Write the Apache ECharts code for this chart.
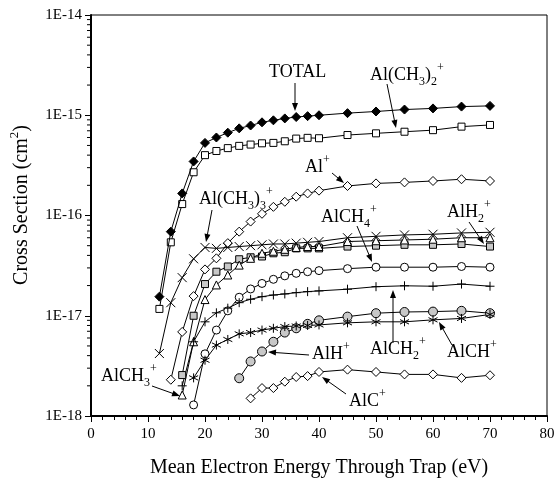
<!DOCTYPE html>
<html>
<head>
<meta charset="utf-8">
<script src="https://cdn.jsdelivr.net/npm/echarts@6/dist/echarts.min.js"></script>
<style>
  html, body { margin: 0; padding: 0; background: #fff; }
  #chart { width: 555px; height: 478px; }
</style>
</head>
<body>
<div id="chart"></div>
<script>
// electron energy (eV) at which each point was measured
var energy = [12, 14, 16, 18, 20, 22, 24, 26, 28, 30, 32, 34, 36, 38, 40, 45, 50, 55, 60, 65, 70];

// cross sections (cm^2), null where the ion was not measured
var total     = [1.55e-17, 6.9e-17, 1.66e-16, 3.46e-16, 5.3e-16, 6.0e-16, 6.7e-16, 7.4e-16, 7.9e-16, 8.5e-16, 8.9e-16, 9.3e-16, 9.6e-16, 9.8e-16, 1.0e-15, 1.05e-15, 1.09e-15, 1.14e-15, 1.17e-15, 1.22e-15, 1.24e-15];
var alMe2     = [1.17e-17, 5.4e-17, 1.3e-16, 2.7e-16, 4.0e-16, 4.4e-16, 4.7e-16, 4.95e-16, 5.1e-16, 5.25e-16, 5.3e-16, 5.5e-16, 5.85e-16, 5.95e-16, 5.9e-16, 6.35e-16, 6.6e-16, 6.85e-16, 7.1e-16, 7.7e-16, 8.0e-16];
var alPlus    = [null, 2.3e-18, 6.9e-18, 1.57e-17, 2.9e-17, 3.74e-17, 5.3e-17, 6.9e-17, 8.7e-17, 1.04e-16, 1.22e-16, 1.37e-16, 1.54e-16, 1.66e-16, 1.77e-16, 1.97e-16, 2.09e-16, 2.14e-16, 2.21e-16, 2.3e-16, 2.21e-16];
var alMe3     = [4.2e-18, 1.35e-17, 2.4e-17, 3.7e-17, 4.8e-17, 4.7e-17, 4.8e-17, 4.9e-17, 5.0e-17, 5.1e-17, 5.2e-17, 5.2e-17, 5.3e-17, 5.4e-17, 5.5e-17, 6.0e-17, 6.2e-17, 6.4e-17, 6.5e-17, 6.7e-17, 6.8e-17];
var alH2      = [null, null, 2.56e-18, 1.0e-17, 2.07e-17, 2.75e-17, 3.1e-17, 3.66e-17, 3.83e-17, 3.9e-17, 4.2e-17, 4.3e-17, 4.7e-17, 4.7e-17, 4.7e-17, 4.9e-17, 5.0e-17, 5.1e-17, 5.1e-17, 5.2e-17, 4.9e-17];
var alCH3     = [null, null, 1.62e-18, 5.5e-18, 1.45e-17, 2.03e-17, 2.55e-17, 3.2e-17, 3.74e-17, 4.2e-17, 4.4e-17, 4.6e-17, 4.8e-17, 4.9e-17, 4.9e-17, 5.5e-17, 5.6e-17, 5.7e-17, 5.8e-17, 6.0e-17, 6.0e-17];
var alCH4     = [null, null, null, 1.29e-18, 4.17e-18, 7.2e-18, 1.12e-17, 1.53e-17, 1.85e-17, 2.1e-17, 2.31e-17, 2.5e-17, 2.65e-17, 2.75e-17, 2.82e-17, 2.95e-17, 3.05e-17, 3.05e-17, 3.05e-17, 3.1e-17, 3.05e-17];
var alCH2     = [null, null, 2.0e-18, 5.5e-18, 8.7e-18, 1.07e-17, 1.19e-17, 1.35e-17, 1.46e-17, 1.55e-17, 1.61e-17, 1.65e-17, 1.7e-17, 1.74e-17, 1.77e-17, 1.84e-17, 1.95e-17, 1.99e-17, 1.97e-17, 2.07e-17, 1.97e-17];
var alH       = [null, null, null, null, null, null, null, 2.38e-18, 3.5e-18, 4.4e-18, 5.5e-18, 6.8e-18, 7.5e-18, 8.3e-18, 9.0e-18, 9.8e-18, 1.06e-17, 1.09e-17, 1.1e-17, 1.12e-17, 1.06e-17];
var alCH      = [null, null, null, 2.4e-18, 3.6e-18, 5.1e-18, 5.8e-18, 6.6e-18, 6.8e-18, 7.2e-18, 7.5e-18, 7.8e-18, 7.9e-18, 8.0e-18, 8.1e-18, 8.5e-18, 8.7e-18, 8.7e-18, 9.1e-18, 9.4e-18, 1.03e-17];
var alC       = [null, null, null, null, null, null, null, null, 1.5e-18, 1.9e-18, 1.9e-18, 2.2e-18, 2.45e-18, 2.5e-18, 2.75e-18, 2.9e-18, 2.75e-18, 2.6e-18, 2.6e-18, 2.4e-18, 2.55e-18];

// log-axis minor ticks (2..9 in every decade)
var minorTicks = [];
[-18, -17, -16, -15].forEach(function (e) {
    for (var m = 2; m <= 9; m++) minorTicks.push(m * Math.pow(10, e));
});

var FONT = '"Liberation Serif", "DejaVu Serif", serif';
var GRAY = '#c8c8c8';

var SYM_X = 'path://M0,0L10,10M10,0L0,10';
var SYM_PLUS = 'path://M5,0L5,10M0,5L10,5';
var SYM_STAR = 'path://M5,0L5,10M0.7,2.5L9.3,7.5M9.3,2.5L0.7,7.5';

function pairs(vals) {
    var out = [];
    for (var i = 0; i < energy.length; i++) {
        if (vals[i] != null) out.push([energy[i], vals[i]]);
    }
    return out;
}

function line(name, vals, symbol, size, fill, z) {
    var stroke = !!symbol.match(/^path/);
    return {
        name: name,
        type: 'line',
        data: pairs(vals),
        symbol: symbol,
        symbolSize: size,
        showAllSymbol: true,
        z: z || 2,
        lineStyle: { color: '#000', width: 1 },
        itemStyle: {
            color: stroke ? 'none' : fill,
            borderColor: '#000',
            borderWidth: 1
        },
        emphasis: { disabled: true },
        animation: false
    };
}

var rich = {
    s: { fontSize: 12, fontFamily: FONT, verticalAlign: 'bottom', lineHeight: 26 },
    p: { fontSize: 12, fontFamily: FONT, verticalAlign: 'top', lineHeight: 26 }
};

function label(text, x, y) {
    return {
        type: 'text', x: x, y: y, z: 100,
        style: {
            text: text, fill: '#000', fontSize: 18, fontFamily: FONT,
            align: 'left', verticalAlign: 'middle', rich: rich, lineHeight: 26
        }
    };
}

function arrow(x1, y1, x2, y2) {
    var a = Math.atan2(y2 - y1, x2 - x1), L = 8, W = 3;
    var ca = Math.cos(a), sa = Math.sin(a);
    return [
        { type: 'line', z: 100, shape: { x1: x1, y1: y1, x2: x2 - ca * 4, y2: y2 - sa * 4 }, style: { stroke: '#000', lineWidth: 1 } },
        { type: 'polygon', z: 100, shape: { points: [
            [x2, y2],
            [x2 - L * ca + W * sa, y2 - L * sa - W * ca],
            [x2 - L * ca - W * sa, y2 - L * sa + W * ca]
        ] }, style: { fill: '#000' } }
    ];
}

var graphics = [
    // y axis title, rotated
    {
        type: 'text', x: 22, y: 205, rotation: Math.PI / 2, z: 100,
        style: {
            text: 'Cross Section (cm{p|2})', fill: '#000', fontSize: 20, fontFamily: FONT,
            align: 'center', verticalAlign: 'middle', lineHeight: 28,
            rich: { p: { fontSize: 13, fontFamily: FONT, verticalAlign: 'top', lineHeight: 28 } }
        }
    },
    label('TOTAL', 269, 72),
    label('Al(CH{s|3}){s|2}{p|+}', 370, 75),
    label('Al{p|+}', 305, 167),
    label('Al(CH{s|3}){s|3}{p|+}', 199, 199),
    label('AlCH{s|4}{p|+}', 321, 217),
    label('AlH{s|2}{p|+}', 447, 212),
    label('AlCH{s|3}{p|+}', 101, 376),
    label('AlH{p|+}', 312, 354),
    label('AlCH{s|2}{p|+}', 370, 349),
    label('AlCH{p|+}', 447, 352),
    label('AlC{p|+}', 349, 401)
].concat(
    arrow(295, 83, 295, 111),
    arrow(387, 84, 396, 128),
    arrow(332, 173, 344, 183),
    arrow(212, 210, 206, 242),
    arrow(357, 226, 372, 262),
    arrow(469, 222, 484, 244),
    arrow(152, 386, 180, 396),
    arrow(309, 355, 268, 352),
    arrow(393, 343, 393, 290),
    arrow(452, 345, 439, 322),
    arrow(346, 394, 322, 377)
);

var chart = echarts.init(document.getElementById('chart'), null, { renderer: 'canvas' });

chart.setOption({
    animation: false,
    backgroundColor: '#fff',
    grid: {
        left: 91, right: 8, top: 15, bottom: 62,
        outerBoundsMode: 'none',
        containLabel: false,
        show: true, borderColor: '#000', borderWidth: 1
    },
    xAxis: {
        type: 'value',
        min: 0, max: 80, interval: 10,
        name: 'Mean Electron Energy Through Trap (eV)',
        nameLocation: 'middle',
        nameGap: 42,
        nameTextStyle: { fontFamily: FONT, fontSize: 20, color: '#000' },
        axisLine: { lineStyle: { color: '#000', width: 2 } },
        axisTick: { show: true, length: 6, lineStyle: { color: '#000', width: 1 } },
        minorTick: { show: true, splitNumber: 5, length: 4, lineStyle: { color: '#000', width: 1 } },
        axisLabel: { fontFamily: FONT, fontSize: 15, color: '#000', margin: 11 },
        splitLine: { show: false }
    },
    yAxis: {
        type: 'log',
        logBase: 10,
        min: 1e-18, max: 1e-14,
        axisLine: { lineStyle: { color: '#000', width: 2 } },
        axisTick: { show: true, length: 6, lineStyle: { color: '#000', width: 1 } },
        axisLabel: {
            fontFamily: FONT, fontSize: 15, color: '#000', margin: 9,
            formatter: function (v) { return '1E' + Math.round(Math.log10(v)); }
        },
        splitLine: { show: false }
    },
    graphic: graphics,
    series: [
        {
            type: 'custom',
            silent: true,
            clip: false,
            animation: false,
            data: minorTicks.map(function (v) { return [0, v]; }),
            renderItem: function (params, api) {
                var p = api.coord([api.value(0), api.value(1)]);
                return {
                    type: 'line',
                    shape: { x1: p[0] - 4, y1: p[1], x2: p[0], y2: p[1] },
                    style: { stroke: '#000', lineWidth: 1 }
                };
            }
        },
        line('TOTAL', total, 'diamond', 9, '#000', 5),
        line('Al(CH3)2+', alMe2, 'rect', 7, '#fff', 4),
        line('Al+', alPlus, 'diamond', 9, '#fff', 3),
        line('Al(CH3)3+', alMe3, SYM_X, 9, '#000', 3),
        line('AlH2+', alH2, 'rect', 7, GRAY, 3),
        line('AlCH3+', alCH3, 'triangle', 8, '#fff', 3),
        line('AlCH4+', alCH4, 'circle', 8, '#fff', 3),
        line('AlCH2+', alCH2, SYM_PLUS, 9, '#000', 3),
        line('AlH+', alH, 'circle', 9, GRAY, 3),
        line('AlCH+', alCH, SYM_STAR, 9, '#000', 3),
        line('AlC+', alC, 'diamond', 9, '#fff', 3)
    ]
});
</script>
</body>
</html>
